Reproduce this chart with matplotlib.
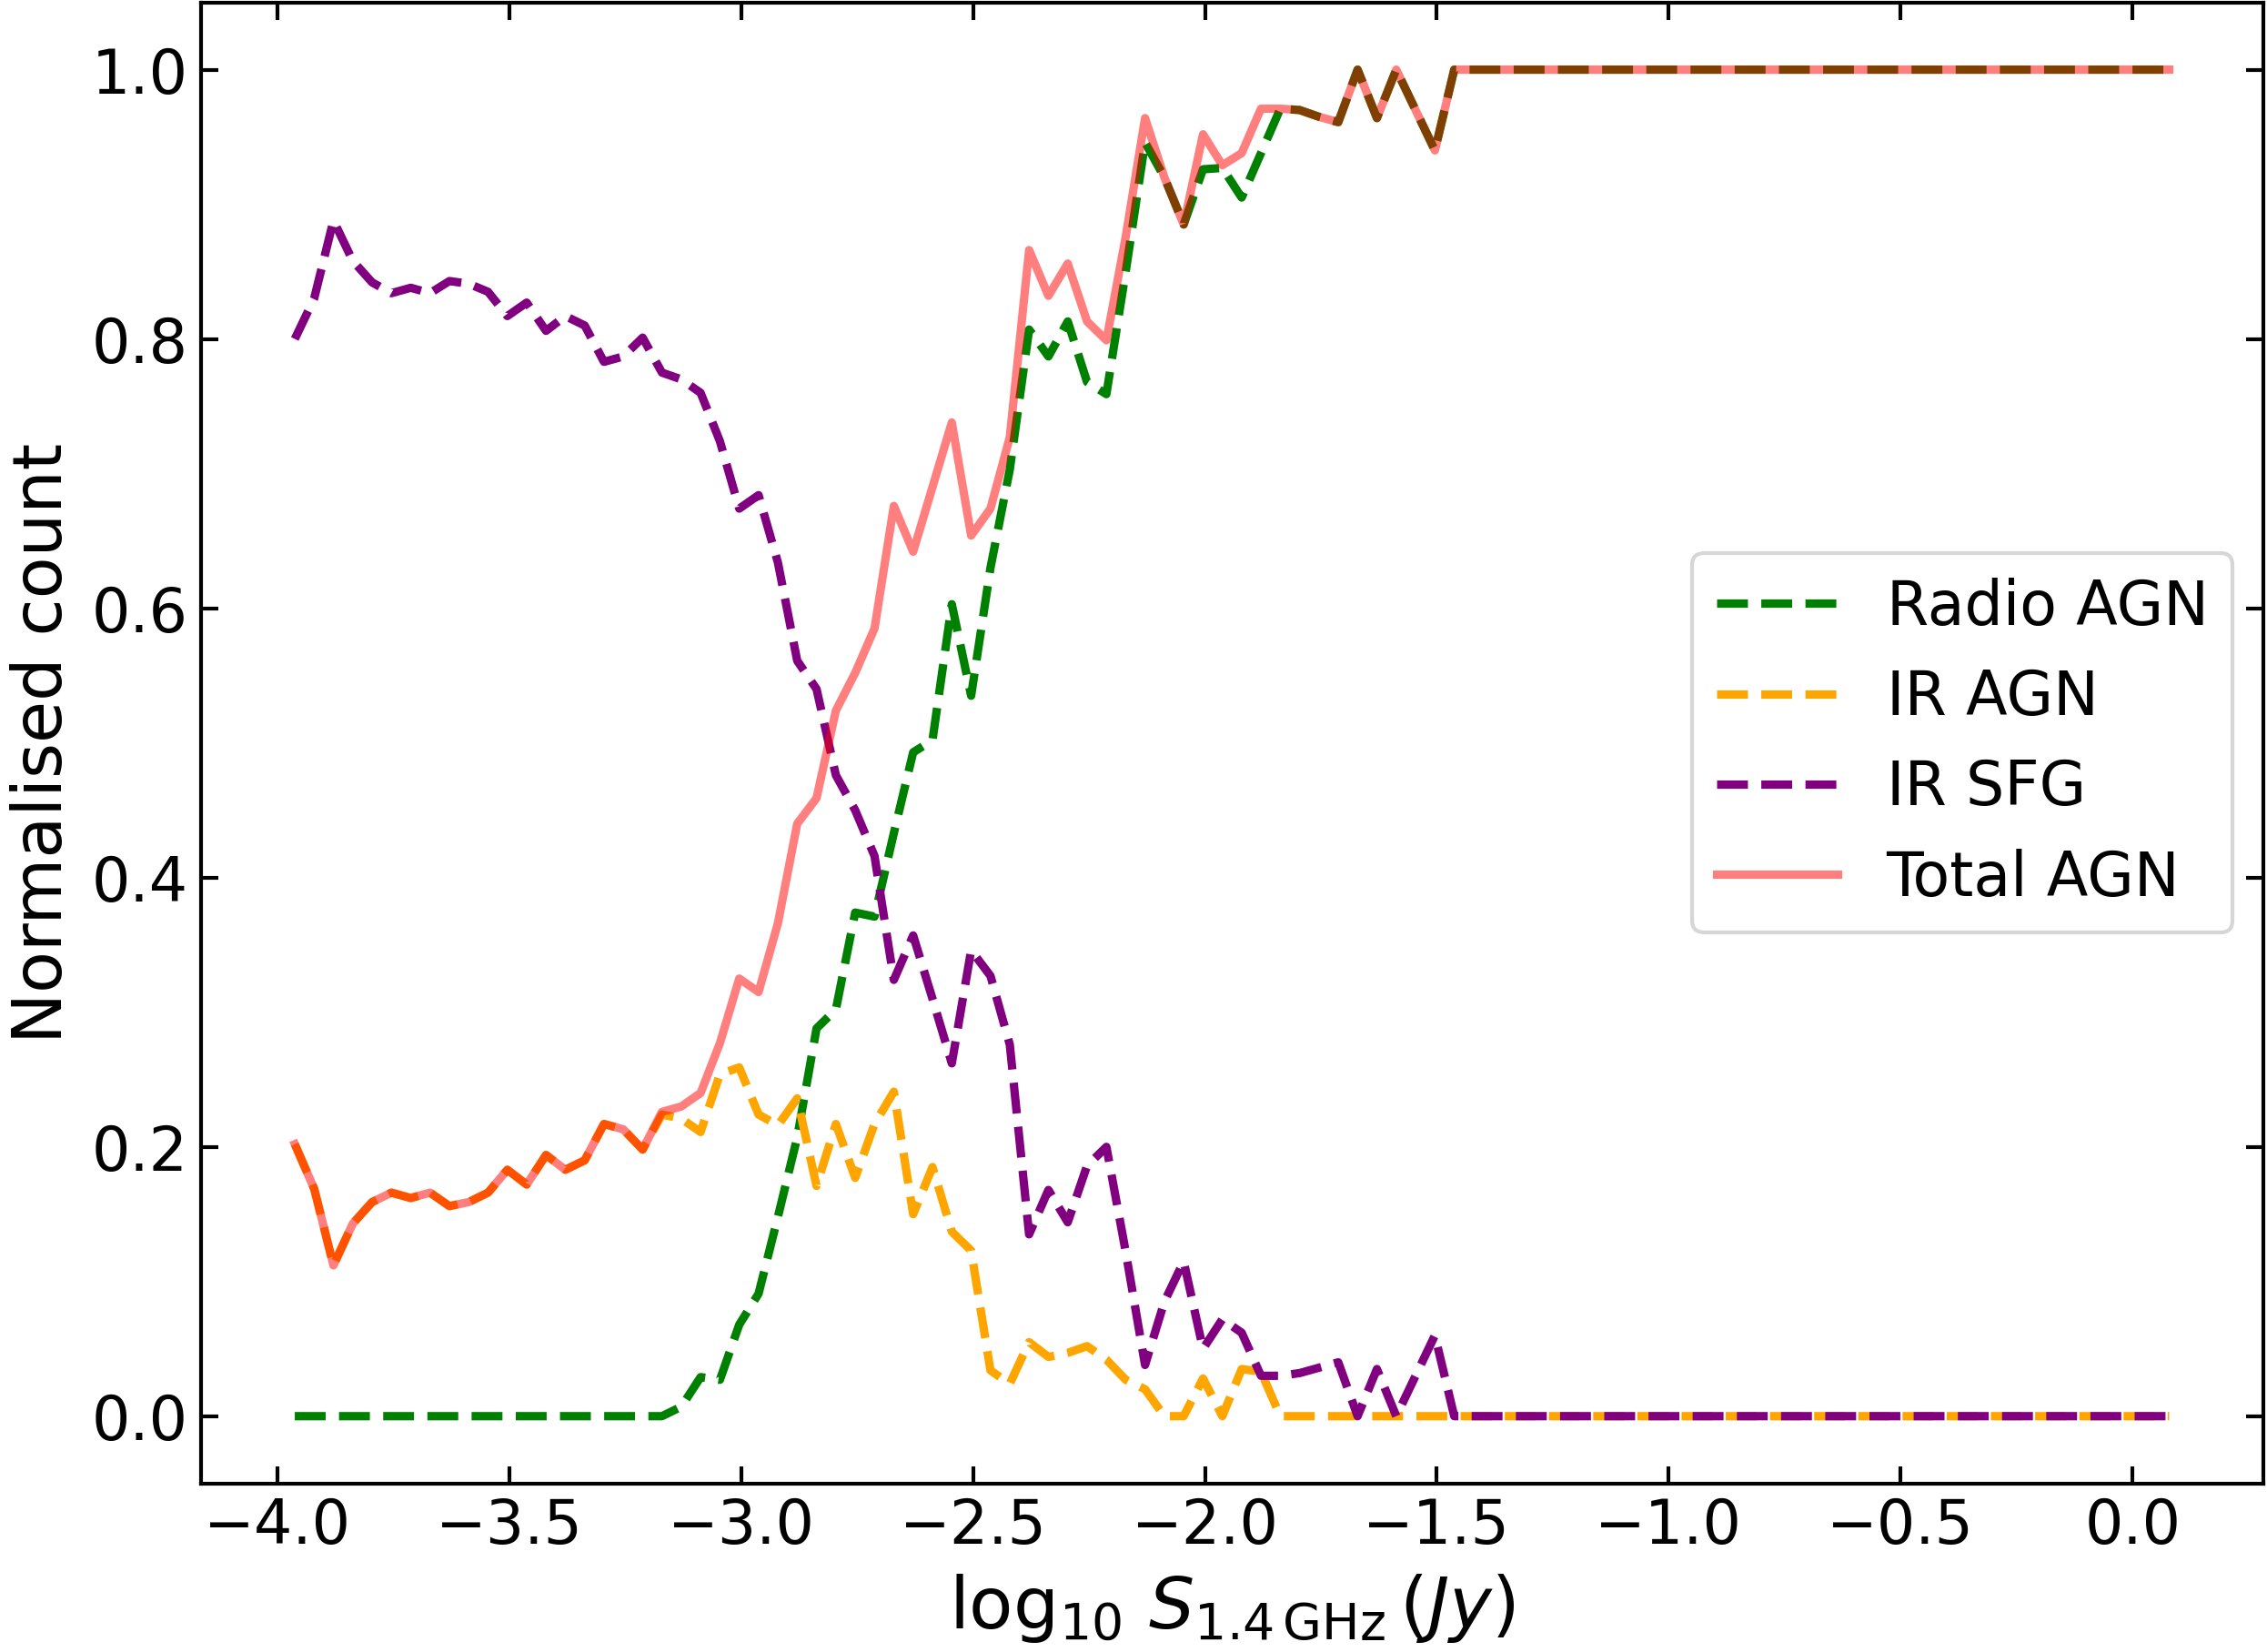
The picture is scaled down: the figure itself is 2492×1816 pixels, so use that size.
import numpy as np
import matplotlib
matplotlib.use('Agg')
import matplotlib.pyplot as plt

# binned flux grid (log10 S, bin centres)
bin_start = -3.9625
bin_width = 1 / 24
n_bins = 98

# normalised counts per bin
radio_agn = ([0.0] * 20 +
             [0.007, 0.029, 0.027, 0.068, 0.091, 0.148, 0.207, 0.288, 0.302, 0.374,
              0.371, 0.433, 0.493, 0.502, 0.603, 0.535, 0.630, 0.703, 0.807, 0.787,
              0.813, 0.768, 0.759, 0.850, 0.946, 0.920, 0.885, 0.926, 0.927, 0.905,
              0.938, 0.971, 0.970, 0.965, 0.961, 1.000, 0.964, 1.000, 0.970, 0.940] +
             [1.0] * 38)

ir_agn = ([0.202, 0.169, 0.112, 0.143, 0.159, 0.166, 0.162, 0.166, 0.156, 0.159,
           0.166, 0.183, 0.172, 0.194, 0.183, 0.190, 0.217, 0.213, 0.198, 0.224] +
          [0.221, 0.211, 0.254, 0.259, 0.224, 0.216, 0.236, 0.171, 0.217, 0.177,
           0.217, 0.241, 0.150, 0.185, 0.137, 0.123, 0.034, 0.024, 0.055, 0.044,
           0.047, 0.052, 0.042, 0.027, 0.020, 0.0, 0.0, 0.028, 0.0, 0.035,
           0.033, 0.0] +
          [0.0] * 46)

ir_sfg = ([0.800, 0.830, 0.888, 0.858, 0.842, 0.834, 0.838, 0.834, 0.843, 0.841,
           0.835, 0.817, 0.827, 0.806, 0.817, 0.810, 0.783, 0.787, 0.801, 0.775,
           0.770, 0.760] +
          [0.724, 0.674, 0.684, 0.634, 0.561, 0.540, 0.476, 0.450, 0.416, 0.324,
           0.357, 0.310, 0.262, 0.346, 0.327, 0.276, 0.135, 0.168, 0.144, 0.186,
           0.200, 0.122, 0.038, 0.085, 0.115, 0.050, 0.072, 0.062, 0.030, 0.030,
           0.032, 0.036, 0.040, 0.0, 0.035, 0.0, 0.030, 0.060, 0.0] +
          [0.0] * 37)

total_agn = ([0.202, 0.169, 0.112, 0.143, 0.159, 0.166, 0.162, 0.166, 0.156, 0.159,
              0.166, 0.183, 0.172, 0.194, 0.183, 0.190, 0.217, 0.213, 0.198, 0.226,
              0.230, 0.240] +
             [0.277, 0.325, 0.315, 0.366, 0.440, 0.459, 0.524, 0.552, 0.585, 0.676,
              0.642, 0.690, 0.738, 0.654, 0.674, 0.727, 0.866, 0.832, 0.856, 0.813,
              0.799, 0.876, 0.964, 0.920, 0.885, 0.952, 0.929, 0.938, 0.971, 0.971,
              0.970, 0.965, 0.961, 1.000, 0.964, 1.000, 0.970, 0.940] +
             [1.0] * 38)

logS = bin_start + bin_width * np.arange(n_bins)

fig = plt.figure(figsize=(2492 / 300, 1816 / 300), dpi=300)
ax = fig.add_axes([0.0887, 0.1020, 0.9095, 0.8966])

ax.plot(logS, radio_agn, '--', color='green', lw=2.2, label='Radio AGN')
ax.plot(logS, ir_agn, '--', color='orange', lw=2.2, label='IR AGN')
ax.plot(logS, ir_sfg, '--', color='purple', lw=2.2, label='IR SFG')
ax.plot(logS, total_agn, '-', color='red', alpha=0.5, lw=2.2, label='Total AGN')

ax.set_xlabel(r'$\log_{10}\, S_{1.4\,\mathrm{GHz}}\,(Jy)$', fontsize=19)
ax.set_ylabel('Normalised count', fontsize=18)
ax.tick_params(direction='in', top=True, right=True, labelsize=16,
               length=4.5, width=1)
for sp in ax.spines.values():
    sp.set_linewidth(1)
ax.legend(loc='center right', fontsize=16)

fig.savefig('out.png', dpi=300)
